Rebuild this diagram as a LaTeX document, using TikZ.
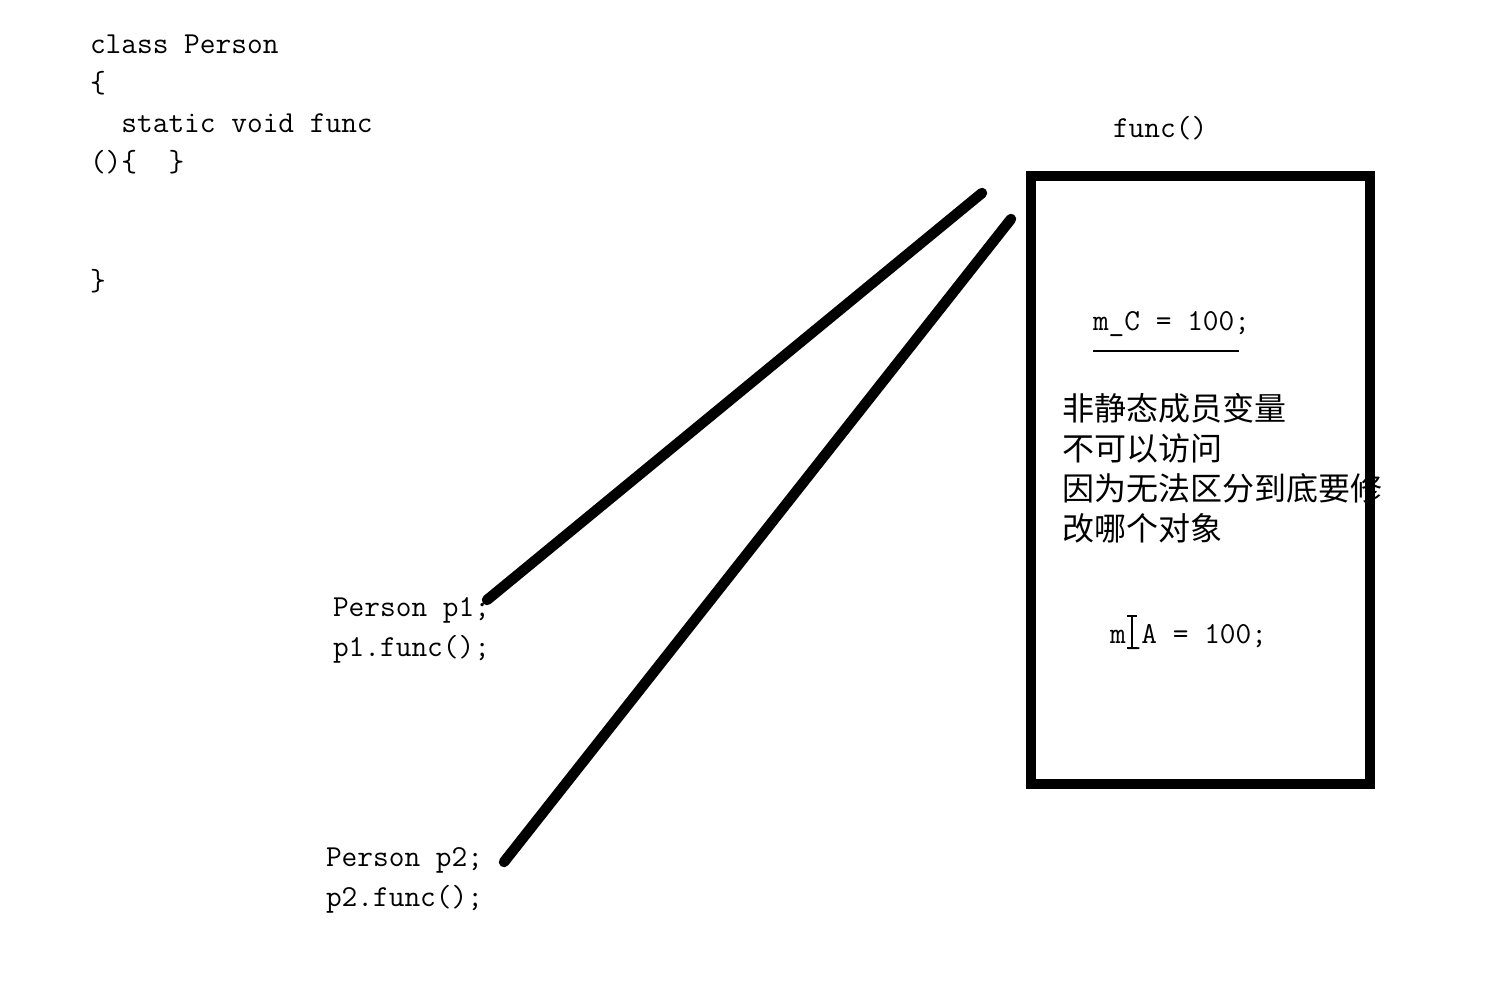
\documentclass[tikz,border=0pt]{standalone}
\usepackage{fontspec}
\newfontfamily\cjk{Noto Sans CJK SC}
\begin{document}
\begin{tikzpicture}[x=1pt,y=-1pt,
  code/.style={anchor=base west,inner sep=0pt,outer sep=0pt,font=\ttfamily\fontsize{30.5}{36}\selectfont},
  note/.style={anchor=base west,inner sep=0pt,outer sep=0pt,font=\cjk\fontsize{32}{40}\selectfont},
  link/.style={line width=10.5pt,line cap=round},
  frame/.style={draw,line width=10pt,inner sep=0pt,outer sep=0pt,minimum width=339pt,minimum height=608pt}]
\useasboundingbox[fill=white] (0,0) rectangle (1496,994);
% class code
\node[code] (l1) at (90,53) {class Person};
\node[code] (l2) at (90,92.5) {\{};
\node[code] (l3) at (90,132) {\ \ static void func};
\node[code] (l4) at (90,171.5) {()\{\ \ \}};
\node[code] (l7) at (90,290) {\}};
% objects
\node[code] (p1a) at (333,616) {Person p1;};
\node[code] (p1b) at (333,656) {p1.func();};
\node[code] (p2a) at (326,866) {Person p2;};
\node[code] (p2b) at (326,906) {p2.func();};
% function box content
\node[code] (ft) at (1113,137) {func()};
\node[code] (mc) at (1093,330) {m\_C = 100;};
\draw[line width=2pt] (1093,351) coordinate (u1) -- (1239,351) coordinate (u2);
\node[note] (n1) at (1062,420) {非静态成员变量};
\node[note] (n2) at (1062,460) {不可以访问};
\node[note] (n3) at (1062,500) {因为无法区分到底要修};
\node[note] (n4) at (1062,540) {改哪个对象};
\node[code] (ma) at (1110,643) {m\_A = 100;};
\draw[line width=1.5pt] (1127,616) -- (1137,616) (1132,616) -- (1132,648) (1127,648) -- (1137,648);
% box
\node[frame] (box) at (1200.5,480) {};
% connectors
\coordinate (s1) at (982,193);
\coordinate (e1) at (487,600);
\coordinate (s2) at (1011,219);
\coordinate (e2) at (504,862);
\draw[link] (s1) -- (e1);
\draw[link] (s2) -- (e2);
\end{tikzpicture}
\end{document}
